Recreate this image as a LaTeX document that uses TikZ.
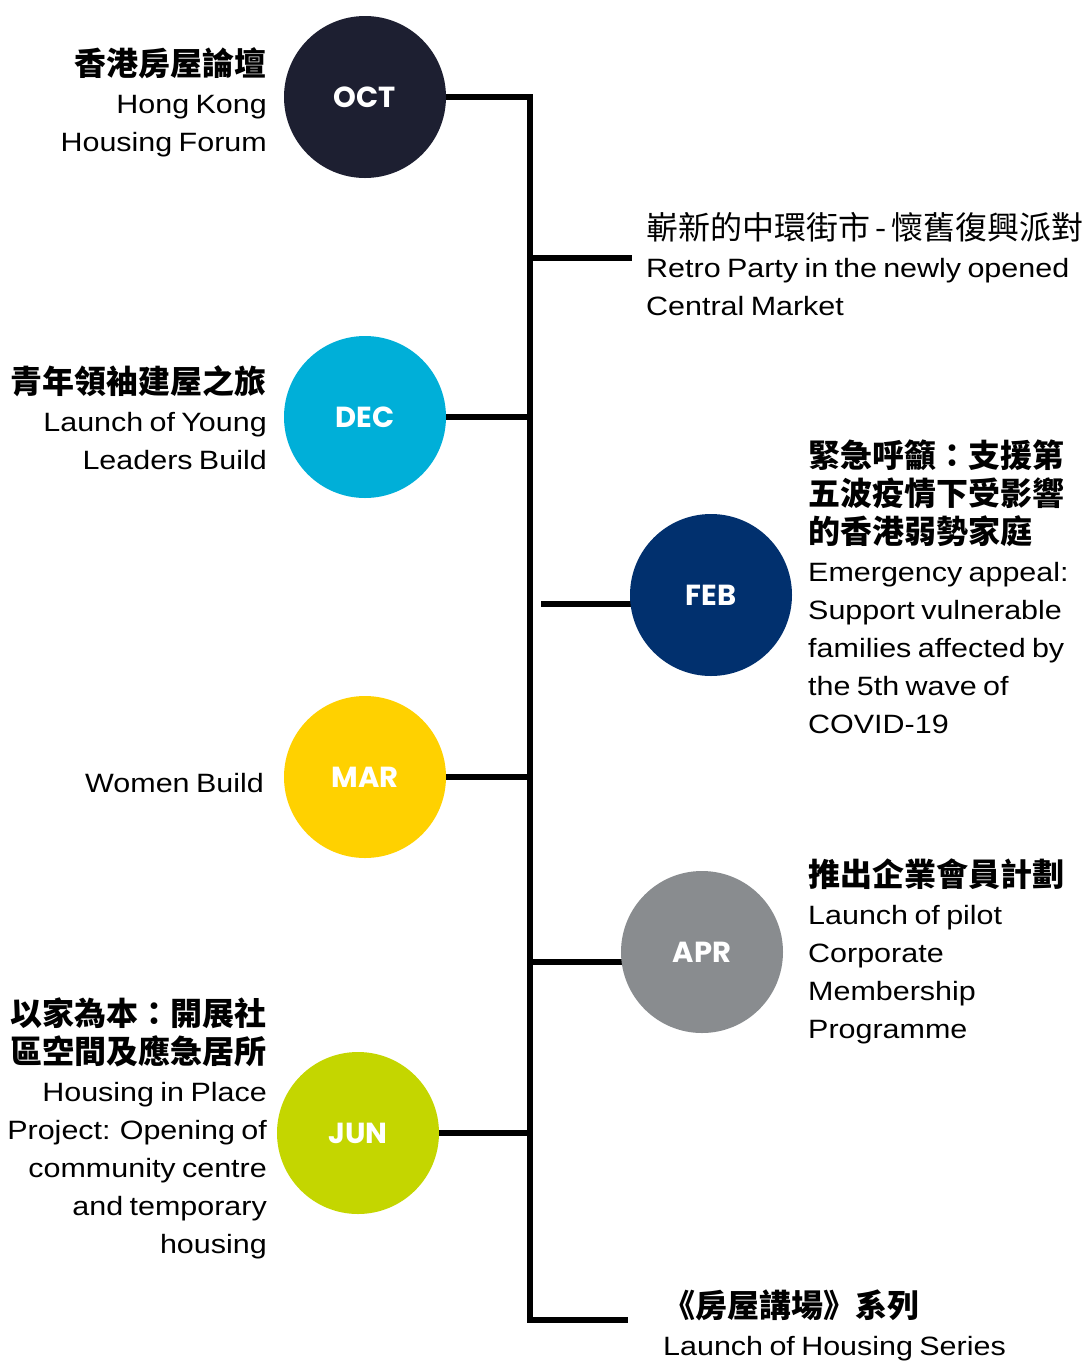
\documentclass[tikz,border=0pt]{standalone}
\usepackage{fontspec}
\setmainfont{Liberation Sans}[FakeStretch=1.15, WordSpace=0.75]
\newfontfamily\cjk{Noto Sans CJK TC}
\newfontfamily\monthfont{Poppins}
\pgfdeclarelayer{background}
\pgfsetlayers{background,main}

\definecolor{octcol}{RGB}{29,31,49}
\definecolor{deccol}{RGB}{0,175,216}
\definecolor{febcol}{RGB}{1,48,110}
\definecolor{marcol}{RGB}{255,209,0}
\definecolor{aprcol}{RGB}{137,140,143}
\definecolor{juncol}{RGB}{196,214,0}

\newcommand{\entext}{\fontsize{26.5}{38}\selectfont}
\newcommand{\zhb}[1]{{\cjk\bfseries\fontsize{32}{38}\selectfont #1}}
\newcommand{\zhr}[1]{{\cjk\fontsize{32}{38}\selectfont #1}}
\newcommand{\topline}{\rule{0pt}{32pt}}

\begin{document}
\begin{tikzpicture}
	[
	x=1pt, y=-1pt, line cap=round, line join=round,
	month/.style={circle, minimum size=162pt, inner sep=0pt, text=white, font=\monthfont\bfseries\fontsize{29}{32}\selectfont},
	branch/.style={line width=5.5pt, black},
	lefttext/.style={anchor=north east, align=right, inner sep=0pt, font=\entext},
	righttext/.style={anchor=north west, align=left, inner sep=0pt, font=\entext}
	]
	
	\useasboundingbox (0,0) rectangle (1082,1361);
	
	%Kreise mit Monaten
	\foreach \name/\lab/\col/\x/\y in {oct/OCT/octcol/365/97, dec/DEC/deccol/365/417, feb/FEB/febcol/711/595, mar/MAR/marcol/365/777, apr/APR/aprcol/702/952, jun/JUN/juncol/358/1133}
	\node[month, fill=\col] (\name) at (\x,\y) {\lab};
	
	%Zeitachse und Abzweige
	\begin{pgfonlayer}{background}
	\coordinate (top) at (530,97);
	\coordinate (bottom) at (530,1320);
	\coordinate (seriesend) at (628,1320);
	\draw[branch] (oct) -| (bottom) -- (seriesend);
	
	\coordinate (retroend) at (632,258);
	\draw[branch] (retroend -| top) -- (retroend);
	\draw[branch] (dec) -- (dec -| top);
	
	\coordinate (febstart) at (541,604);
	\draw[branch] (febstart) -- (febstart -| feb);
	\draw[branch] (mar) -- (mar -| top);
	
	\coordinate (aprstart) at (530,962);
	\draw[branch] (aprstart) -- (aprstart -| apr);
	\draw[branch] (jun) -- (jun -| top);
	\end{pgfonlayer}
	
	%Texte links
	\node[lefttext] (octtext) at (267,43) {\topline\zhb{香港房屋論壇}\\Hong Kong\\Housing Forum};
	\node[lefttext] (dectext) at (267,361) {\topline\zhb{青年領袖建屋之旅}\\Launch of Young\\Leaders Build};
	\node[lefttext, anchor=base east] (martext) at (264,792) {Women Build};
	\node[lefttext] (juntext) at (267,993) {\topline\zhb{以家為本：開展社}\\\zhb{區空間及應急居所}\\Housing in Place\\Project: Opening of\\community centre\\and temporary\\housing};
	
	%Texte rechts
	\node[righttext] (retrotext) at (646,207) {\topline\zhr{嶄新的中環街市\,-\,懷舊復興派對}\\Retro Party in the newly opened\\Central Market};
	\node[righttext] (febtext) at (808,435) {\topline\zhb{緊急呼籲：支援第}\\\zhb{五波疫情下受影響}\\\zhb{的香港弱勢家庭}\\Emergency appeal:\\Support vulnerable\\families affected by\\the 5th wave of\\COVID-19};
	\node[righttext] (aprtext) at (808,854) {\topline\zhb{推出企業會員計劃}\\Launch of pilot\\Corporate\\Membership\\Programme};
	\node[righttext] (seriestext) at (663,1285) {\topline\zhb{《房屋講場》系列}\\Launch of Housing Series};
	
\end{tikzpicture}
\end{document}
